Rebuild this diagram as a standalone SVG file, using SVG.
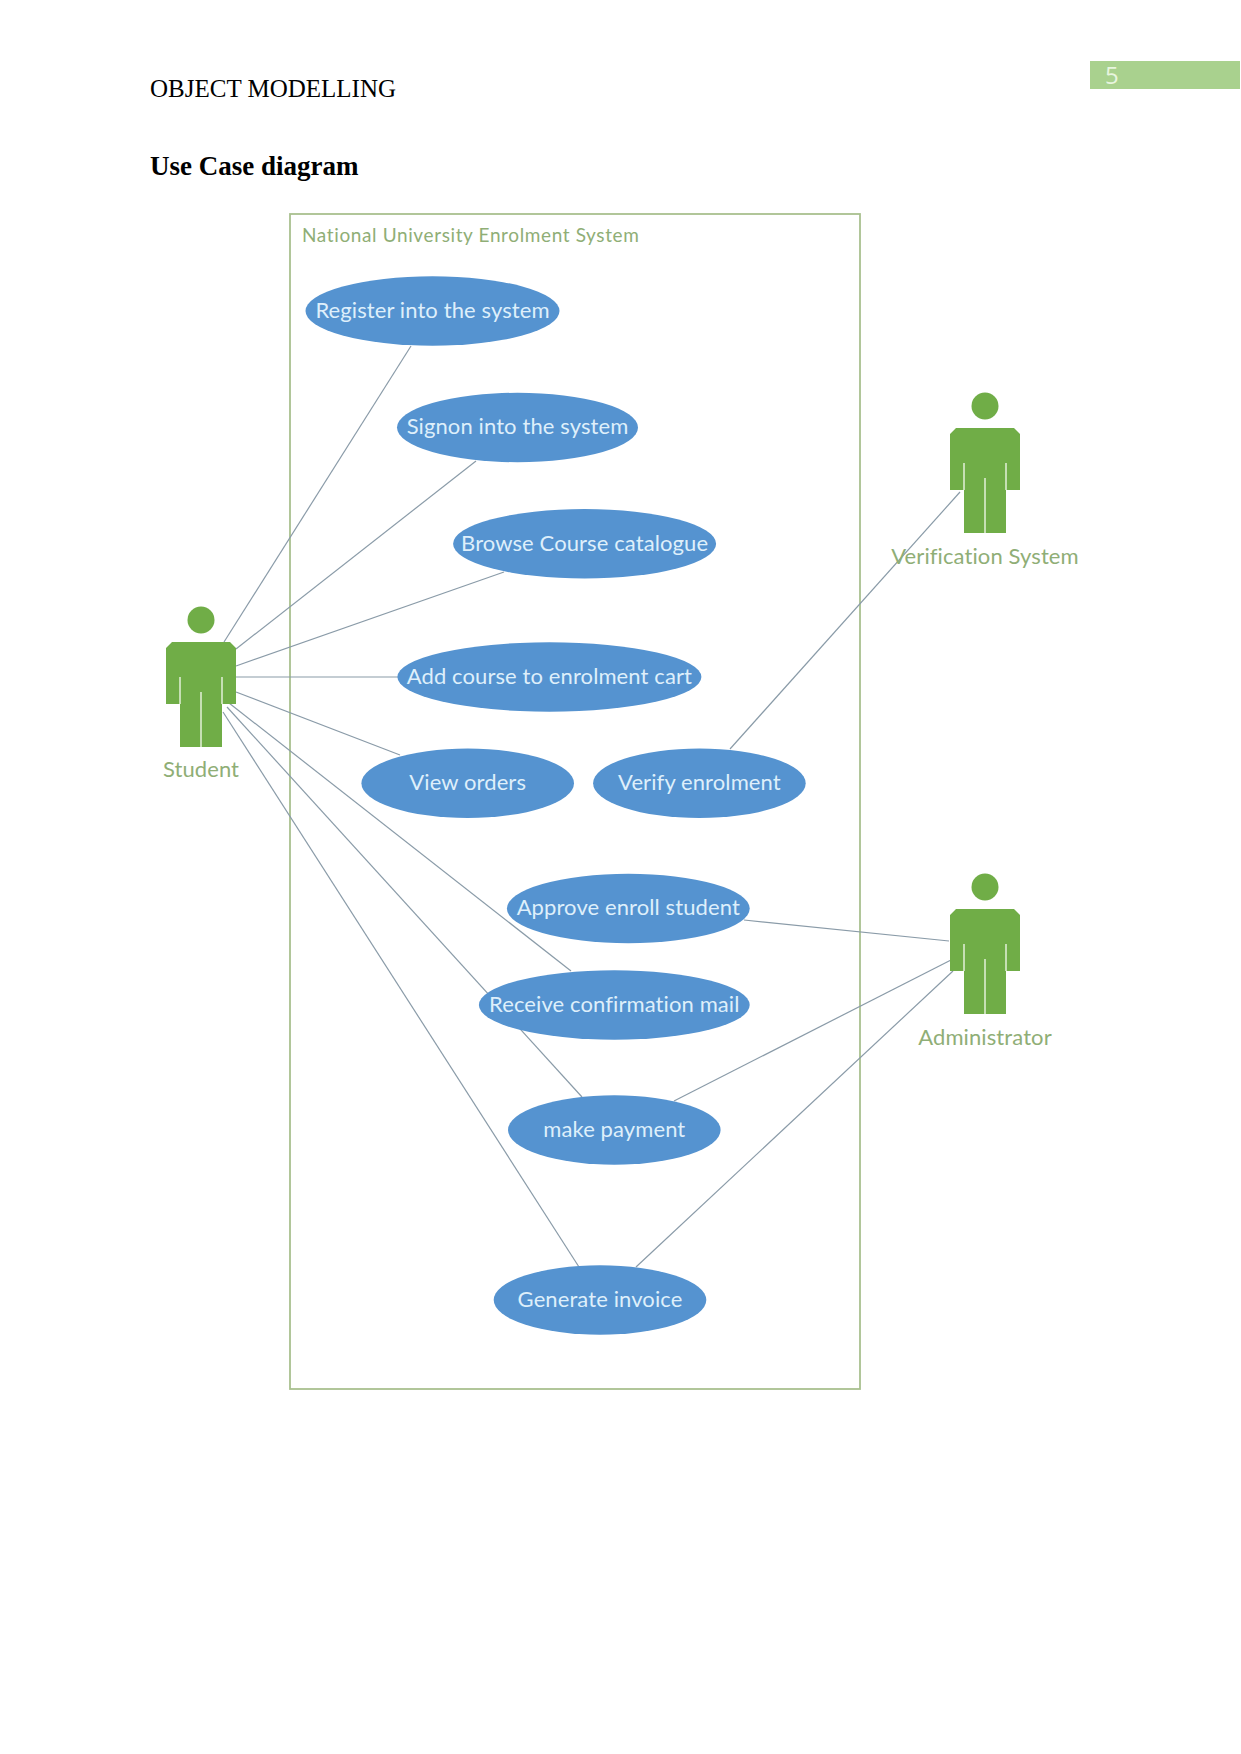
<svg xmlns="http://www.w3.org/2000/svg" width="1241" height="1754" viewBox="0 0 1241 1754">
<style>
.doc{font-family:"Liberation Serif",serif;fill:#000}
.uc ellipse{fill:#5593d0}
.uc text{font-family:Lato,"Open Sans",sans-serif;font-size:22px;letter-spacing:.1px;fill:#deeffb;text-anchor:middle}
.lbl{font-family:Lato,"Open Sans",sans-serif;font-size:22px;letter-spacing:.1px;fill:#8fae76;text-anchor:middle}
.cn line{stroke:#8a9ba8;stroke-width:1.2}
.man{fill:#70ad47}
.slit{stroke:#e2f0d9;stroke-width:1.5;fill:none}
</style>
<defs>
<g id="man">
<circle class="man" cx="0" cy="0" r="13.5"/>
<path class="man" d="M-29 22H29L35 28V84H21V127H-21V84H-35V28Z"/>
<path class="slit" d="M-21 57V84M21 57V84M0 72V127"/>
</g>
</defs>
<rect width="1241" height="1754" fill="#fff"/>
<text id="header" class="doc" x="150" y="96.500" font-size="25">OBJECT MODELLING</text>
<text id="title" class="doc" x="150" y="175" font-size="27" font-weight="bold">Use Case diagram</text>
<g id="page-number">
<rect x="1090" y="61" width="150" height="28" fill="#a9d18e"/>
<text x="1105" y="84" font-family="Open Sans,sans-serif" font-size="24" fill="#e8f5df">5</text>
</g>
<g id="system-boundary">
<rect x="290" y="214" width="570" height="1175" fill="none" stroke="#a9c08f" stroke-width="1.8"/>
<text x="302" y="242" font-family="Lato,'Open Sans',sans-serif" font-size="19" letter-spacing=".62" fill="#8fae76">National University Enrolment System</text>
</g>
<g id="connectors" class="cn">
<line x1="224" y1="642" x2="411" y2="346"/>
<line x1="236" y1="649" x2="476" y2="461"/>
<line x1="236" y1="666" x2="504" y2="572"/>
<line x1="236" y1="677" x2="398" y2="677"/>
<line x1="236" y1="692" x2="400" y2="755"/>
<line x1="229" y1="703" x2="571" y2="971"/>
<line x1="227" y1="707" x2="582" y2="1097"/>
<line x1="223" y1="712" x2="579" y2="1267"/>
<line x1="744" y1="920" x2="949" y2="941"/>
<line x1="674" y1="1101" x2="951" y2="960"/>
<line x1="636" y1="1267" x2="953" y2="971"/>
<line x1="730" y1="749" x2="960" y2="492"/>
</g>
<g id="uc-register" class="uc"><ellipse cx="432.500" cy="311" rx="127" ry="34.700"/><text x="432.500" y="317.500">Register into the system</text></g>
<g id="uc-signon" class="uc"><ellipse cx="517.500" cy="427.500" rx="120.500" ry="34.700"/><text x="517.500" y="434">Signon into the system</text></g>
<g id="uc-browse" class="uc"><ellipse cx="584.600" cy="543.800" rx="131.500" ry="34.700"/><text x="584.600" y="551">Browse Course catalogue</text></g>
<g id="uc-add" class="uc"><ellipse cx="549.400" cy="677" rx="152" ry="34.700"/><text x="549.400" y="683.500">Add course to enrolment cart</text></g>
<g id="uc-view" class="uc"><ellipse cx="467.700" cy="783.300" rx="106.300" ry="34.700"/><text x="467.700" y="790">View orders</text></g>
<g id="uc-verify" class="uc"><ellipse cx="699.400" cy="783.300" rx="106.300" ry="34.700"/><text x="699.400" y="790">Verify enrolment</text></g>
<g id="uc-approve" class="uc"><ellipse cx="628.300" cy="908.500" rx="121.400" ry="34.700"/><text x="628.300" y="915">Approve enroll student</text></g>
<g id="uc-receive" class="uc"><ellipse cx="614.300" cy="1005" rx="135.400" ry="34.700"/><text x="614.300" y="1011.500">Receive confirmation mail</text></g>
<g id="uc-payment" class="uc"><ellipse cx="614.300" cy="1130" rx="106.300" ry="34.700"/><text x="614.300" y="1137">make payment</text></g>
<g id="uc-invoice" class="uc"><ellipse cx="600" cy="1300" rx="106.300" ry="34.700"/><text x="600" y="1307">Generate invoice</text></g>
<g id="actor-student"><use href="#man" x="201" y="620"/><text class="lbl" x="201" y="777">Student</text></g>
<g id="actor-verification"><use href="#man" x="985" y="406"/><text class="lbl" x="985" y="564">Verification System</text></g>
<g id="actor-administrator"><use href="#man" x="985" y="887"/><text class="lbl" x="985" y="1045">Administrator</text></g>
</svg>
